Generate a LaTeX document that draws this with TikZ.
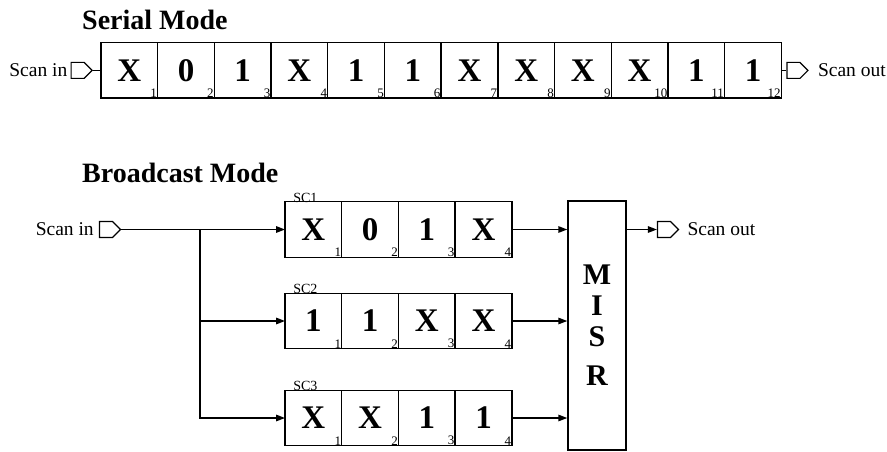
\documentclass[tikz,border=0pt]{standalone}
\usepackage{fontspec}
\setmainfont{Liberation Serif}
\usepackage{tikz}
\usetikzlibrary{arrows.meta, positioning, shapes.symbols}

\begin{document}
\begin{tikzpicture}[
    x=1pt, y=-1pt,
    cell/.style={draw, line width=1.4pt, outer sep=0pt, inner sep=0pt, minimum width=56.7pt, minimum height=55.5pt, font=\fontsize{33}{36}\selectfont\bfseries},
    num/.style={anchor=south east, inner sep=0.5pt, font=\fontsize{13}{14}\selectfont},
    port/.style={draw, signal, signal to=east, line width=1.2pt, inner sep=0pt, minimum width=21pt, minimum height=16pt},
    title/.style={anchor=base west, inner sep=0pt, font=\fontsize{28}{30}\selectfont\bfseries},
    lab/.style={inner sep=0pt, font=\fontsize{19.5}{22}\selectfont},
    sclab/.style={anchor=base west, inner sep=0pt, font=\fontsize{14}{15}\selectfont},
    wire/.style={line width=1.4pt},
    line/.style={-{Triangle[length=9pt, width=6.5pt]}, line width=1.4pt}
]
\useasboundingbox (0,0) rectangle (887,452);

% Serial mode
\node[title] (stitle) at (82,30) {Serial Mode};
\node[cell, label={[num]south east:1}] (s1) at (129.3,70.4) {X};
\node[cell, right=0pt of s1, label={[num]south east:2}] (s2) {0};
\node[cell, right=0pt of s2, label={[num]south east:3}] (s3) {1};
\node[cell, right=0pt of s3, label={[num]south east:4}] (s4) {X};
\node[cell, right=0pt of s4, label={[num]south east:5}] (s5) {1};
\node[cell, right=0pt of s5, label={[num]south east:6}] (s6) {1};
\node[cell, right=0pt of s6, label={[num]south east:7}] (s7) {X};
\node[cell, right=0pt of s7, label={[num]south east:8}] (s8) {X};
\node[cell, right=0pt of s8, label={[num]south east:9}] (s9) {X};
\node[cell, right=0pt of s9, label={[num]south east:10}] (s10) {X};
\node[cell, right=0pt of s10, label={[num]south east:11}] (s11) {1};
\node[cell, right=0pt of s11, label={[num]south east:12}] (s12) {1};

% Serial ports
\node[port, left=8pt of s1] (in1) {};
\node[lab, left=3pt of in1] (sin) {Scan in};
\draw[wire] (in1) -- (s1);
\node[port, right=5pt of s12] (out1) {};
\node[lab, right=9pt of out1] (sout) {Scan out};
\draw[wire] (s12) -- (out1);

% Broadcast mode
\node[title] (btitle) at (82,182) {Broadcast Mode};

% Chain SC1
\node[cell, label={[num]south east:1}] (ca1) at (313.4,229.5) {X};
\node[cell, right=0pt of ca1, label={[num]south east:2}] (ca2) {0};
\node[cell, right=0pt of ca2, label={[num]south east:3}] (ca3) {1};
\node[cell, right=0pt of ca3, label={[num]south east:4}] (ca4) {X};
\node[sclab] (sc1) at ([xshift=8pt, yshift=-0.5pt] ca1.north west) {SC1};

% Chain SC2
\node[cell, label={[num]south east:1}] (cb1) at (313.4,321) {1};
\node[cell, right=0pt of cb1, label={[num]south east:2}] (cb2) {1};
\node[cell, right=0pt of cb2, label={[num]south east:3}] (cb3) {X};
\node[cell, right=0pt of cb3, label={[num]south east:4}] (cb4) {X};
\node[sclab] (sc2) at ([xshift=8pt, yshift=-0.5pt] cb1.north west) {SC2};

% Chain SC3
\node[cell, label={[num]south east:1}] (cc1) at (313.4,418) {X};
\node[cell, right=0pt of cc1, label={[num]south east:2}] (cc2) {X};
\node[cell, right=0pt of cc2, label={[num]south east:3}] (cc3) {1};
\node[cell, right=0pt of cc3, label={[num]south east:4}] (cc4) {1};
\node[sclab] (sc3) at ([xshift=8pt, yshift=-0.5pt] cc1.north west) {SC3};

% MISR
\node[draw, line width=1.4pt, minimum width=58pt, minimum height=249pt, inner sep=0pt, align=center,
      font=\fontsize{30}{31}\selectfont\bfseries] (misr) at (597,325.5) {M\\I\\S\\[8pt]R};

% Broadcast ports
\node[port] (in2) at (106,229.5) {};
\node[lab, left=5pt of in2] (bin) {Scan in};
\node[port] (out2) at (664,229.5) {};
\node[lab, right=8pt of out2] (bout) {Scan out};

% Arrows
\coordinate (br) at (200,229.5);
\draw[line] (in2) -- (ca1);
\draw[line] (br) |- (cb1);
\draw[line] (br) |- (cc1);
\draw[line] (ca4) -- (ca4 -| misr.west);
\draw[line] (cb4) -- (cb4 -| misr.west);
\draw[line] (cc4) -- (cc4 -| misr.west);
\draw[line] (misr.east |- out2) -- (out2);

\end{tikzpicture}
\end{document}
